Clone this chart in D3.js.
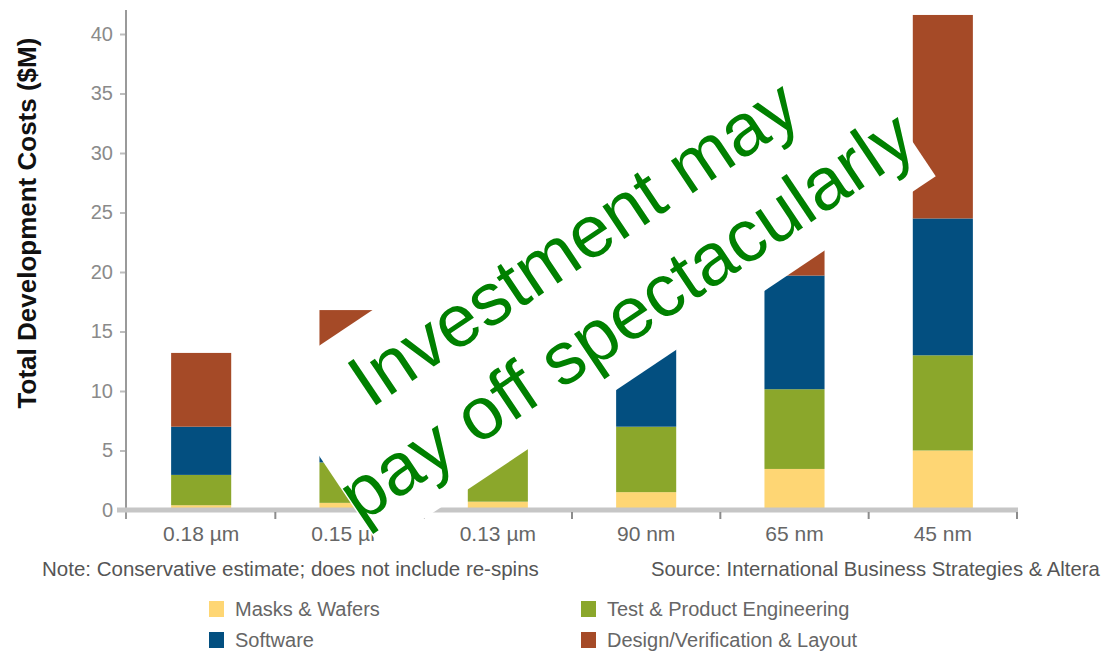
<!DOCTYPE html>
<html>
<head>
<meta charset="utf-8">
<script src="https://cdn.jsdelivr.net/npm/d3@7"></script>
<style>
  body { margin: 0; background: #fff; }
  svg { display: block; }
  .lbl { font-family: "Liberation Sans", Arial, sans-serif; }
</style>
</head>
<body>
<script>
// Step 0: chart data
//= ================================
var categories = ["0.18 \u00b5m", "0.15 \u00b5m", "0.13 \u00b5m", "90 nm", "65 nm", "45 nm"];
var seriesNames = ["Masks & Wafers", "Test & Product Engineering", "Software", "Design/Verification & Layout"];
var masks = [0.4, 0.6, 0.7, 1.5, 3.45, 5.0];
var testEng = [2.55, 3.4, 5.0, 5.5, 6.7, 8.0];
var software = [4.05, 5.0, 6.5, 7.3, 9.55, 11.5];
var design = [6.2, 7.8, 7.8, 8.2, 8.3, 17.1];
var yTicks = [0, 5, 10, 15, 20, 25, 30, 35, 40];
var colors = ["#fed674", "#8ba72b", "#034f80", "#a54a27"];

// Step 1: svg + scales
//= ================================
var svgWidth = 1105;
var svgHeight = 653;

var svg = d3.select("body").append("svg")
  .attr("width", svgWidth)
  .attr("height", svgHeight);

var xScale = d3.scaleBand()
  .domain(categories)
  .range([127, 1017])
  .paddingInner(0.595)
  .paddingOuter(0.2975);

var yScale = d3.scaleLinear()
  .domain([0, 40])
  .range([510, 34]);

// build rows for the stack
var rows = categories.map(function(c, i) {
  return { cat: c, s0: masks[i], s1: testEng[i], s2: software[i], s3: design[i] };
});
var stack = d3.stack().keys(["s0", "s1", "s2", "s3"]);
var layers = stack(rows);

// Step 2: bars
//= ================================
var barGroup = svg.append("g");
layers.forEach(function(layer, li) {
  barGroup.selectAll(".seg" + li)
    .data(layer)
    .enter().append("rect")
    .attr("x", d => xScale(d.data.cat))
    .attr("y", d => yScale(d[1]))
    .attr("width", xScale.bandwidth())
    .attr("height", d => yScale(d[0]) - yScale(d[1]))
    .attr("fill", colors[li]);
});

// Step 3: axes
//= ================================
// y axis
var leftAxis = d3.axisLeft(yScale).tickValues(yTicks).tickSize(6).tickPadding(7);
var yAxisG = svg.append("g")
  .attr("transform", "translate(126,0)")
  .call(leftAxis);
yAxisG.select(".domain").remove();
yAxisG.selectAll(".tick line").attr("stroke", "#bdbdbd").attr("stroke-width", 2);
yAxisG.selectAll(".tick text")
  .attr("class", "lbl")
  .attr("fill", "#8a8a8a")
  .style("font-size", "20px");
yAxisG.append("line")
  .attr("x1", 0).attr("x2", 0)
  .attr("y1", yScale(0) + 9).attr("y2", 10)
  .attr("stroke", "#9a9a9a")
  .attr("stroke-width", 2);

// x axis: thick grey baseline + small ticks between categories
var xRange = xScale.range();
svg.append("line")
  .attr("x1", xRange[0] - 10).attr("x2", xRange[1] + 1)
  .attr("y1", yScale(0)).attr("y2", yScale(0))
  .attr("stroke", "#c6c6c6")
  .attr("stroke-width", 5);

var bounds = categories.slice(1).map(c => xScale(c) - xScale.step() * xScale.paddingInner() / 2);
bounds.push(xRange[1]);
svg.selectAll(".xtick")
  .data(bounds)
  .enter().append("line")
  .attr("x1", d => d).attr("x2", d => d)
  .attr("y1", yScale(0) + 2).attr("y2", yScale(0) + 9)
  .attr("stroke", "#8c8c8c")
  .attr("stroke-width", 2);

svg.selectAll(".xlabel")
  .data(categories)
  .enter().append("text")
  .attr("class", "lbl")
  .attr("x", d => xScale(d) + xScale.bandwidth() / 2)
  .attr("y", 541)
  .attr("text-anchor", "middle")
  .attr("fill", "#666")
  .style("font-size", "21px")
  .text(d => d);

// y axis title
svg.append("text")
  .attr("class", "lbl")
  .attr("transform", "translate(36,223) rotate(-90)")
  .attr("text-anchor", "middle")
  .attr("fill", "#111")
  .style("font-size", "26px")
  .style("font-weight", "bold")
  .text("Total Development Costs ($M)");

// Step 4: notes + legend
//= ================================
svg.append("text")
  .attr("class", "lbl")
  .attr("x", 42).attr("y", 576)
  .attr("fill", "#555")
  .style("font-size", "20.5px")
  .text("Note: Conservative estimate; does not include re-spins");

svg.append("text")
  .attr("class", "lbl")
  .attr("x", 651).attr("y", 576)
  .attr("fill", "#555")
  .style("font-size", "20.3px")
  .text("Source: International Business Strategies & Altera");

var legendPos = [[209, 601], [581, 601], [209, 632], [581, 632]];
var legend = svg.selectAll(".legend")
  .data(seriesNames)
  .enter().append("g")
  .attr("transform", (d, i) => `translate(${legendPos[i][0]}, ${legendPos[i][1]})`);

legend.append("rect")
  .attr("width", 15).attr("height", 16)
  .attr("fill", (d, i) => colors[i]);

legend.append("text")
  .attr("class", "lbl")
  .attr("x", 26).attr("y", 15)
  .attr("fill", "#666")
  .style("font-size", "20px")
  .text(d => d);

// Step 5: the white banner across the chart
//= ================================
var banner = svg.append("g")
  .attr("transform", "translate(602,278) rotate(-33.8)");

banner.append("rect")
  .attr("x", -334).attr("y", -101)
  .attr("width", 668).attr("height", 202)
  .attr("fill", "#fff");

banner.selectAll("text")
  .data(["Investment may", "pay off spectacularly"])
  .enter().append("text")
  .attr("x", (d, i) => i === 0 ? -4 : -1)
  .attr("y", (d, i) => i === 0 ? -20 : 70)
  .attr("text-anchor", "middle")
  .attr("fill", "#008000")
  .style("font-family", "'Liberation Sans', Arial, sans-serif")
  .style("font-size", "74px")
  .text(d => d);
</script>
</body>
</html>
